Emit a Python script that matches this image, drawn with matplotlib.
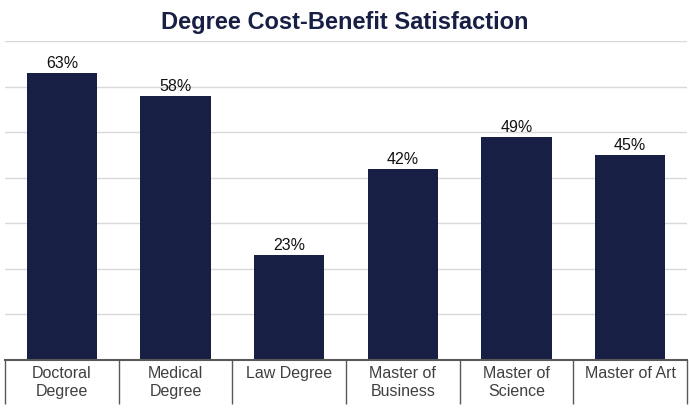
import matplotlib.pyplot as plt
import numpy as np

plt.rcParams['font.family'] = ['Liberation Sans', 'DejaVu Sans']

# === DATA ===
categories = ["Doctoral\nDegree", "Medical\nDegree", "Law Degree",
              "Master of\nBusiness", "Master of\nScience", "Master of Art"]
satisfaction = [63, 58, 23, 42, 49, 45]

navy = '#181f45'

fig = plt.figure(figsize=(6.9, 4.18), dpi=100)
ax = fig.add_axes([5 / 690, 58 / 418, 682 / 690, 319 / 418])

x = np.arange(len(categories))
bars = ax.bar(x, satisfaction, width=0.62, color=navy, zorder=3)

for rect, val in zip(bars, satisfaction):
    ax.annotate(f"{val}%", (rect.get_x() + rect.get_width() / 2, rect.get_height()),
                xytext=(0, 1.5), textcoords='offset points',
                ha='center', va='bottom', fontsize=11.5, color='#111111')

ax.set_xlim(-0.5, len(categories) - 0.5)
ax.set_ylim(0, 70)
ax.set_yticks(np.arange(0, 71, 10))
ax.yaxis.grid(True, color='#d9d9d9', linewidth=1, zorder=0)
ax.tick_params(axis='y', left=False, labelleft=False)

# category labels, separators as minor ticks
ax.set_xticks(x)
ax.set_xticklabels(categories, fontsize=11.5, color='#404040', va='top',
                   linespacing=1.25)
ax.tick_params(axis='x', which='major', length=0, pad=4)
ax.set_xticks(np.arange(-0.5, len(categories)), minor=True)
ax.tick_params(axis='x', which='minor', length=32, width=1, color='#595959')

for side in ['top', 'right', 'left']:
    ax.spines[side].set_visible(False)
ax.spines['bottom'].set_color('#595959')
ax.spines['bottom'].set_linewidth(1.5)
ax.spines['bottom'].set_zorder(4)

fig.text(0.5, 0.945, "Degree Cost-Benefit Satisfaction", ha='center', va='center',
         fontsize=17, fontweight='bold', color=navy)

fig.savefig('out.png', dpi=100)
